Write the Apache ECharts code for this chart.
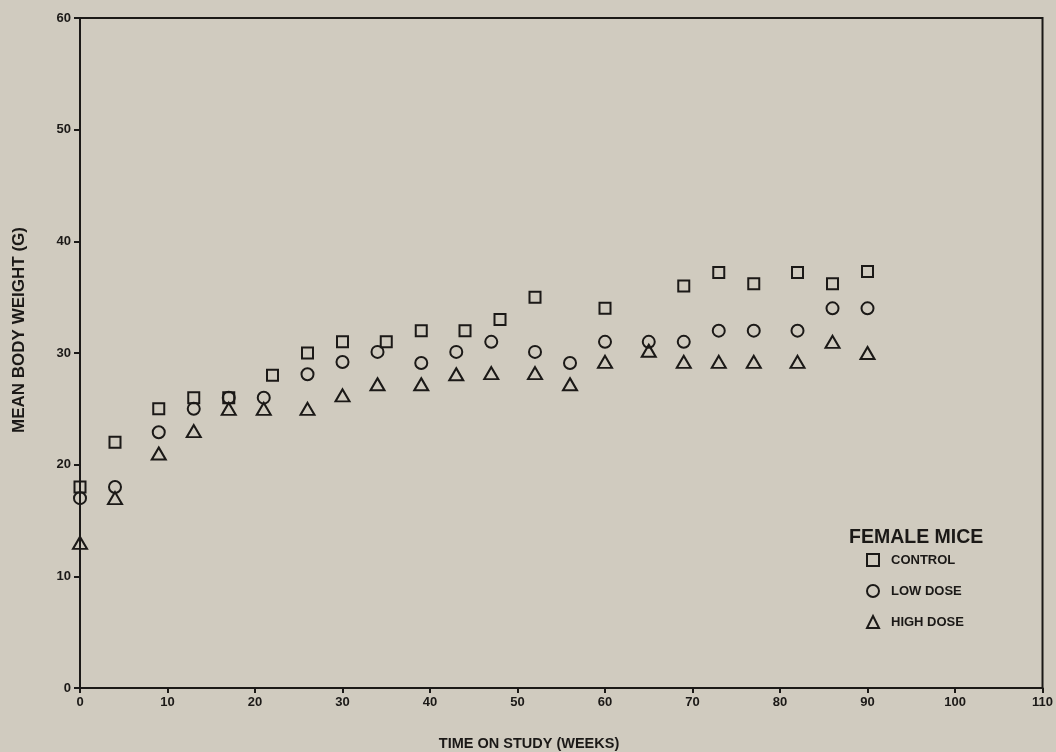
<!DOCTYPE html>
<html>
<head>
<meta charset="utf-8">
<script src="https://cdn.jsdelivr.net/npm/echarts@6/dist/echarts.min.js"></script>
<style>
html,body{margin:0;padding:0;background:#d0cbbf;}
#chart{width:1056px;height:752px;}
</style>
</head>
<body>
<div id="chart"></div>
<script>
// Data
var controlWeeks = [0, 4, 9, 13, 17, 22, 26, 30, 35, 39, 44, 48, 52, 60, 69, 73, 77, 82, 86, 90];
var controlWeight = [18, 22, 25, 26, 26, 28, 30, 31, 31, 32, 32, 33, 35, 34, 36, 37.2, 36.2, 37.2, 36.2, 37.3];

var lowWeeks = [0, 4, 9, 13, 17, 21, 26, 30, 34, 39, 43, 47, 52, 56, 60, 65, 69, 73, 77, 82, 86, 90];
var lowWeight = [17, 18, 22.9, 25, 26, 26, 28.1, 29.2, 30.1, 29.1, 30.1, 31, 30.1, 29.1, 31, 31, 31, 32, 32, 32, 34, 34];

var highWeeks = [0, 4, 9, 13, 17, 21, 26, 30, 34, 39, 43, 47, 52, 56, 60, 65, 69, 73, 77, 82, 86, 90];
var highWeight = [13, 17, 21, 23, 25, 25, 25, 26.2, 27.2, 27.2, 28.1, 28.2, 28.2, 27.2, 29.2, 30.2, 29.2, 29.2, 29.2, 29.2, 31, 30];

var xTicks = [0, 10, 20, 30, 40, 50, 60, 70, 80, 90, 100, 110];
var yTicks = [0, 10, 20, 30, 40, 50, 60];

var seriesNames = ['CONTROL', 'LOW DOSE', 'HIGH DOSE'];

function pairs(xs, ys) {
  return xs.map(function (x, i) { return [x, ys[i]]; });
}

var ink = '#1b1917';
var font = '"Liberation Sans", Arial, Helvetica, sans-serif';

var chart = echarts.init(document.getElementById('chart'), null, {renderer: 'canvas'});

var markStyle = {color: 'rgba(0,0,0,0)', borderColor: ink, borderWidth: 2, opacity: 1};

chart.setOption({
  backgroundColor: '#d0cbbf',
  animation: false,
  grid: {
    left: 80, right: 13, top: 18, bottom: 64,
    show: true, borderColor: ink, borderWidth: 2, backgroundColor: 'rgba(0,0,0,0)'
  },
  title: {
    text: 'FEMALE MICE',
    left: 849, top: 528,
    padding: 0,
    textStyle: {fontFamily: font, fontWeight: 'bold', fontSize: 19.5, color: ink}
  },
  legend: {
    orient: 'vertical',
    left: 866, top: 553,
    padding: 0,
    itemWidth: 12, itemHeight: 12,
    itemGap: 17,
    data: seriesNames,
    itemStyle: {color: 'rgba(0,0,0,0)', borderColor: ink, borderWidth: 2, opacity: 1},
    textStyle: {fontFamily: font, fontWeight: 'bold', fontSize: 13, lineHeight: 12, color: ink, padding: [0, 0, 0, 7]}
  },
  xAxis: {
    type: 'value',
    min: xTicks[0], max: xTicks[xTicks.length - 1], interval: 10,
    axisLine: {show: true, lineStyle: {color: ink, width: 2}},
    axisTick: {show: true, inside: false, length: 5, lineStyle: {color: ink, width: 2}},
    axisLabel: {margin: 8, fontFamily: font, fontWeight: 'bold', fontSize: 13, color: ink},
    splitLine: {show: false}
  },
  yAxis: {
    type: 'value',
    min: yTicks[0], max: yTicks[yTicks.length - 1], interval: 10,
    axisLine: {show: true, lineStyle: {color: ink, width: 2}},
    axisTick: {show: true, inside: false, length: 6, lineStyle: {color: ink, width: 2}},
    axisLabel: {margin: 9, fontFamily: font, fontWeight: 'bold', fontSize: 13, color: ink},
    splitLine: {show: false}
  },
  graphic: [
    {
      type: 'text', x: 19, y: 330, rotation: Math.PI / 2,
      style: {text: 'MEAN BODY WEIGHT (G)', font: 'bold 17px ' + font, fill: ink,
              textAlign: 'center', textVerticalAlign: 'middle'}
    },
    {
      type: 'text', x: 529, y: 744,
      style: {text: 'TIME ON STUDY (WEEKS)', font: 'bold 14.5px ' + font, fill: ink,
              textAlign: 'center', textVerticalAlign: 'middle'}
    }
  ],
  series: [
    {
      name: seriesNames[0], type: 'scatter', symbol: 'rect', symbolSize: 11,
      itemStyle: markStyle, data: pairs(controlWeeks, controlWeight), z: 3
    },
    {
      name: seriesNames[1], type: 'scatter', symbol: 'circle', symbolSize: 12,
      itemStyle: markStyle, data: pairs(lowWeeks, lowWeight), z: 3
    },
    {
      name: seriesNames[2], type: 'scatter', symbol: 'triangle', symbolSize: [14, 12],
      itemStyle: markStyle, data: pairs(highWeeks, highWeight), z: 3
    }
  ]
});
</script>
</body>
</html>
